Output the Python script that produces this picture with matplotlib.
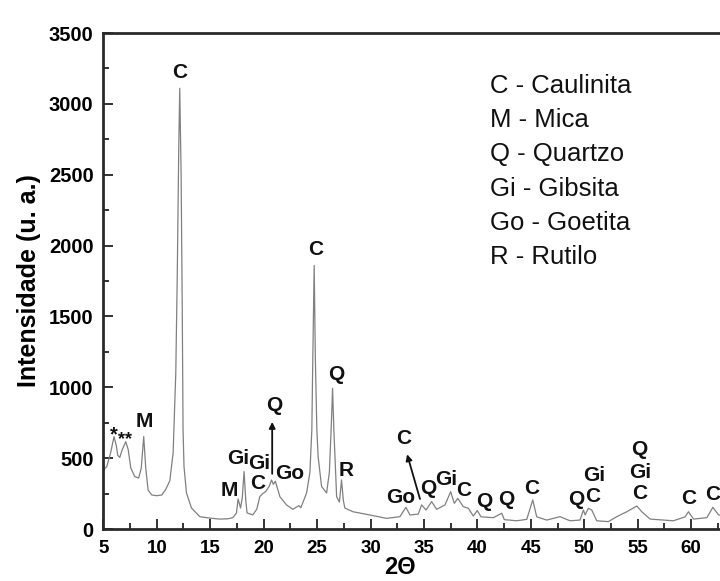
import matplotlib

matplotlib.use("Agg")
import matplotlib.pyplot as plt
from matplotlib.ticker import MultipleLocator

plt.rcParams["font.family"] = ["Liberation Sans", "DejaVu Sans"]

# 2-theta (deg) and intensity
two_theta = [
    5.0, 5.32, 5.69, 6.0, 6.21, 6.35, 6.54, 6.77, 7.10, 7.33, 7.57, 7.94,
    8.31, 8.55, 8.78, 8.97, 9.19, 9.53, 10.0, 10.47, 10.84, 11.22, 11.53,
    11.78, 11.92, 12.06, 12.15, 12.28, 12.39, 12.46, 12.55, 12.78, 13.25,
    14.03, 14.96, 15.9, 16.65, 17.12, 17.46, 17.61, 17.84, 18.0, 18.17,
    18.33, 18.45, 18.99, 19.36, 19.64, 19.92, 20.2, 20.51, 20.74, 20.91,
    21.1, 21.52, 22.14, 22.73, 23.3, 23.48, 24.02, 24.33, 24.51, 24.6,
    24.73, 24.84, 24.98, 25.1, 25.42, 25.89, 26.15, 26.34, 26.45, 26.57,
    26.83, 27.09, 27.29, 27.46, 27.6, 28.35, 29.2, 29.94, 31.51, 32.75,
    33.31, 33.69, 34.47, 34.78, 35.19, 35.72, 36.19, 36.97, 37.5, 37.84,
    38.16, 38.68, 39.15, 39.62, 39.99, 40.34, 41.49, 42.28, 42.52, 43.68,
    44.62, 45.18, 45.55, 46.49, 47.73, 48.67, 49.6, 49.92, 50.08, 50.38,
    50.7, 51.17, 52.26, 53.04, 53.98, 54.92, 55.38, 56.16, 58.34, 59.44,
    59.75, 60.22, 61.47, 62.03, 62.56, 62.9,
]
intensity = [
    416, 440, 540, 652, 590, 520, 505, 560, 616, 560, 430, 370,
    360, 430, 652, 430, 275, 240, 235, 240, 280, 340, 536,
    1100, 1800, 2700, 3110, 2500, 1500, 700, 440, 254, 148,
    87, 77, 70, 72, 80, 113, 212, 148, 220, 405,
    200, 113, 100, 140, 228, 250, 265, 300, 346, 315,
    337, 228, 170, 139, 165, 150, 254, 400, 700, 1200,
    1860, 1200, 700, 510, 300, 254, 400, 750, 993, 700,
    228, 190, 346, 200, 148, 122, 110, 99, 75, 87,
    153, 99, 105, 170, 134, 193, 139, 170, 263, 181,
    216, 158, 146, 92, 130, 86, 80, 111, 66, 58,
    68, 205, 86, 63, 87, 58, 63, 134, 99, 146,
    134, 58, 52, 87, 122, 162, 122, 70, 58, 86,
    122, 70, 80, 153, 100, 95,
]

# phase labels over the peaks
peak_labels = ["C", "C", "Q", "R", "M", "M", "Gi", "Gi", "C", "Q", "Go",
               "C", "Go", "Q", "Gi", "C", "Q", "Q", "C", "Q", "C", "Gi",
               "Q", "Gi", "C", "C", "C"]
label_x = [12.15, 24.86, 26.76, 27.7, 8.88, 16.77, 17.61, 19.55, 19.49,
           20.98, 22.45, 33.06, 32.82, 35.4, 37.07, 38.75, 40.62, 42.74,
           45.08, 49.24, 50.8, 50.92, 55.16, 55.22, 55.16, 59.75, 61.98]
label_y = [3219, 1970, 1087, 416, 758, 275, 499, 464, 322, 875, 393,
           640, 224, 287, 346, 275, 193, 205, 287, 205, 228, 381,
           558, 397, 252, 216, 240]

legend_lines = ["C - Caulinita", "M - Mica", "Q - Quartzo", "Gi - Gibsita",
                "Go - Goetita", "R - Rutilo"]

fig = plt.figure(figsize=(7.2, 5.81), dpi=100)
ax = fig.add_axes([0.1435, 0.0895, 0.8565, 0.8537])

ax.plot(two_theta, intensity, color="#808080", lw=0.9)

for txt, x, y in zip(peak_labels, label_x, label_y):
    ax.text(x, y, txt, ha="center", va="center", fontsize=15,
            fontweight="bold", color="#111111")

ax.text(6.02, 628, "*", ha="center", va="baseline", fontsize=14.5,
        fontweight="bold", color="#111111")
ax.text(7.05, 602, "**", ha="center", va="baseline", fontsize=13,
        fontweight="bold", color="#111111")

arrow = dict(arrowstyle="-|>", color="#111111", lw=1.3, mutation_scale=9)
ax.annotate("", xy=(20.8, 775), xytext=(20.8, 370), arrowprops=arrow)
ax.annotate("", xy=(33.35, 546), xytext=(34.7, 193), arrowprops=arrow)

for i, line in enumerate(legend_lines):
    fig.text(490 / 720, 1 - (86 + i * 34.2) / 581, line, ha="left",
             va="center", fontsize=18.5, color="#111111")

ax.set_xlim(5, 62.7)
ax.set_ylim(0, 3500)
ax.xaxis.set_major_locator(MultipleLocator(5))
ax.xaxis.set_minor_locator(MultipleLocator(2.5))
ax.yaxis.set_major_locator(MultipleLocator(500))
ax.yaxis.set_minor_locator(MultipleLocator(250))
ax.tick_params(which="both", direction="in", color="#222222", width=1.3)
ax.tick_params(which="major", length=7)
ax.tick_params(which="minor", length=4.5)
ax.tick_params(axis="x", labelsize=13.5, pad=8)
ax.tick_params(axis="y", labelsize=14.5, pad=7)
for lbl in ax.get_xticklabels() + ax.get_yticklabels():
    lbl.set_fontweight("bold")

for side in ["left", "bottom", "top"]:
    ax.spines[side].set_linewidth(2)
    ax.spines[side].set_color("#2a2a2a")
ax.spines["right"].set_visible(False)

ax.set_xlabel("2Θ", fontsize=17, fontweight="bold", va="center")
ax.xaxis.set_label_coords((400 - 103.3) / 616.7, -(567 - 529) / 496)
ax.set_ylabel("Intensidade (u. a.)", fontsize=18, fontweight="bold",
              labelpad=6)

fig.savefig("out.png", dpi=100)
